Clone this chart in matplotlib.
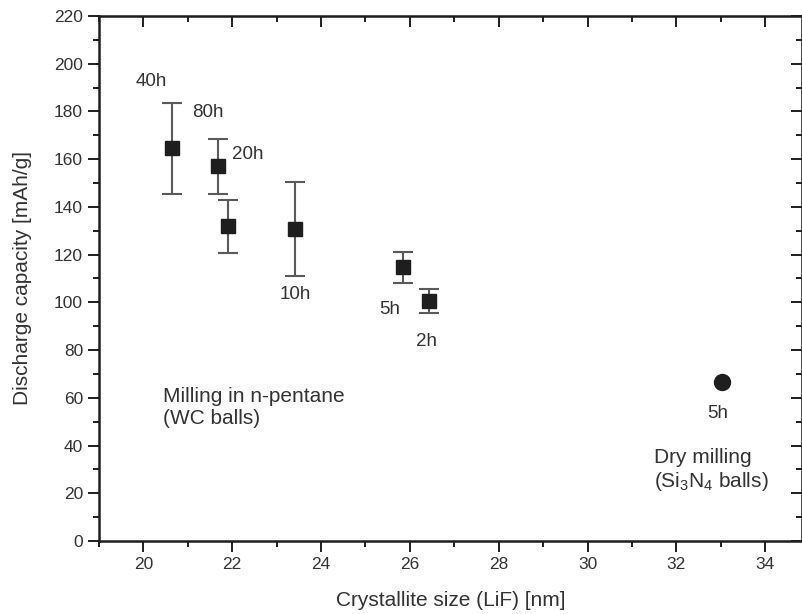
import matplotlib
matplotlib.use("Agg")
import matplotlib.pyplot as plt
from matplotlib.ticker import MultipleLocator

matplotlib.rcParams["font.family"] = ["Liberation Sans", "DejaVu Sans"]
matplotlib.rcParams["mathtext.fontset"] = "custom"
matplotlib.rcParams["mathtext.rm"] = "Liberation Sans"
matplotlib.rcParams["mathtext.default"] = "regular"

# wet milling (n-pentane, WC balls)
wet_size = [20.65, 21.67, 21.91, 23.42, 25.84, 26.44]
wet_cap = [164.5, 157.0, 131.8, 130.8, 114.7, 100.6]
wet_err = [19.0, 11.6, 11.0, 19.8, 6.4, 5.0]
wet_labels = ["40h", "80h", "20h", "10h", "5h", "2h"]
label_pos = [(20.18, 192.4), (21.46, 179.4), (22.34, 161.8), (23.42, 103.1), (25.54, 97.2), (26.37, 83.4)]

# dry milling (Si3N4 balls)
dry_size = [33.02]
dry_cap = [66.5]
dry_label = "5h"

TXT = "#333333"
INK = "#1e1e1e"

fig = plt.figure(figsize=(8.03, 6.14), dpi=100)
ax = fig.add_axes([99 / 803, 1 - 541 / 614, 703 / 803, 525 / 614])

ax.errorbar(wet_size, wet_cap, yerr=wet_err, fmt="none", ecolor="#5a5a5a",
            elinewidth=1.5, capsize=7, capthick=1.5, zorder=2)
ax.plot(wet_size, wet_cap, "s", color=INK, ms=10.5, zorder=3)
ax.plot(dry_size, dry_cap, "o", color=INK, ms=11.5, zorder=3)

for lab, (x, y) in zip(wet_labels, label_pos):
    ax.text(x, y, lab, fontsize=13.5, color=TXT, ha="center", va="center")
ax.text(32.93, 53.6, dry_label, fontsize=13.5, color=TXT, ha="center", va="center")

ax.text(20.45, 56.0, "Milling in n-pentane\n(WC balls)", fontsize=15, color=TXT,
        ha="left", va="center", linespacing=1.2)
ax.text(31.49, 29.5, "Dry milling\n(Si$_3$N$_4$ balls)", fontsize=15, color=TXT,
        ha="left", va="center", linespacing=1.2)

ax.set_xlim(19.0, 34.83)
ax.set_ylim(0, 220)
ax.xaxis.set_major_locator(MultipleLocator(2))
ax.xaxis.set_minor_locator(MultipleLocator(1))
ax.yaxis.set_major_locator(MultipleLocator(20))
ax.yaxis.set_minor_locator(MultipleLocator(10))

for s in ax.spines.values():
    s.set_linewidth(1.8)
    s.set_color(INK)

ax.tick_params(which="both", direction="out", colors=INK, labelcolor=TXT,
               labelsize=12.5, width=1.4)
ax.tick_params(which="major", length=8)
ax.tick_params(which="minor", length=4)

# mirrored ticks on top/right, pointing inward
axt = ax.secondary_xaxis("top")
axt.xaxis.set_major_locator(MultipleLocator(2))
axt.xaxis.set_minor_locator(MultipleLocator(1))
axt.tick_params(which="both", direction="in", labeltop=False, width=1.4, colors=INK)
axt.tick_params(which="major", length=8)
axt.tick_params(which="minor", length=4)
axr = ax.secondary_yaxis("right")
axr.yaxis.set_major_locator(MultipleLocator(20))
axr.yaxis.set_minor_locator(MultipleLocator(10))
axr.tick_params(which="both", direction="in", labelright=False, width=1.4, colors=INK)
axr.tick_params(which="major", length=8)
axr.tick_params(which="minor", length=4)

ax.set_xlabel("Crystallite size (LiF) [nm]", fontsize=15, color=TXT, labelpad=14)
ax.set_ylabel("Discharge capacity [mAh/g]", fontsize=15, color=TXT, labelpad=16)

fig.savefig("out.png", dpi=100)
